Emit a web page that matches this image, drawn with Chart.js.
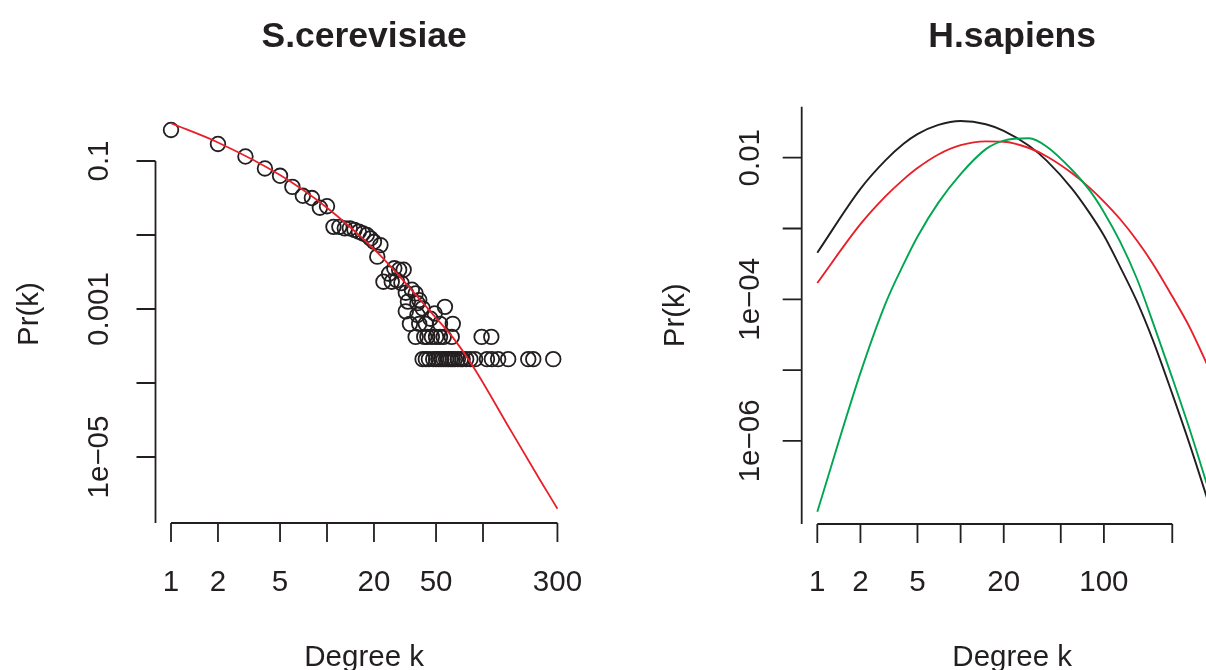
<!DOCTYPE html>
<html>
<head>
<meta charset="utf-8">
<script src="https://cdn.jsdelivr.net/npm/chart.js@4.4.0/dist/chart.umd.min.js"></script>
<style>
  html, body { margin: 0; padding: 0; background: #fff; overflow: hidden; }
  #wrap { position: relative; width: 1206px; height: 670px; overflow: hidden; }
  #yeast { position: absolute; left: 0; top: 0; }
  #human { position: absolute; left: 603px; top: 0; }
</style>
</head>
<body>
<div id="wrap">
  <canvas id="yeast" width="603" height="670"></canvas>
  <canvas id="human" width="620" height="670"></canvas>
</div>
<script>
// S.cerevisiae - observed degree distribution (open circles)
const yeastK = [1, 2, 3, 4, 5, 6, 7, 8, 9, 10,
    11, 12, 13, 14, 15, 16, 17, 18, 19, 20, 22, 21,
    25, 27, 29, 31, 23, 26, 28, 30,
    35, 37, 32, 33, 38, 39, 41, 32, 38, 49, 57, 46,
    34, 39, 43, 53, 64,
    37, 42, 44, 47, 50, 53, 56, 63, 98, 113,
    41, 43, 45, 48, 50, 52, 54, 56, 58, 60, 62, 64, 66, 69, 72, 74, 78, 83, 89, 106, 114, 125, 145, 195, 210, 282];
const yeastP = [0.263, 0.170, 0.115, 0.0794, 0.0631, 0.0447, 0.0339, 0.0316, 0.0234, 0.0245,
    0.0129, 0.0129, 0.0123, 0.0123, 0.0117, 0.0111, 0.0105, 0.0100, 0.0090, 0.0081, 0.0073, 0.0051,
    0.0030, 0.00355, 0.00339, 0.00339, 0.00234, 0.00234, 0.00245, 0.00224,
    0.00182, 0.00162, 0.00166, 0.00126, 0.00120, 0.00132, 0.00102, 0.00093, 0.00083, 0.00087, 0.00107, 0.00074,
    0.00063, 0.00063, 0.00063, 0.00063, 0.00063,
    0.00042, 0.00042, 0.00042, 0.00042, 0.00042, 0.00042, 0.00042, 0.00042, 0.00042, 0.00042,
    0.00021, 0.00021, 0.00021, 0.00021, 0.00021, 0.00021, 0.00021, 0.00021, 0.00021, 0.00021, 0.00021, 0.00021, 0.00021,
    0.00021, 0.00021, 0.00021, 0.00021, 0.00021, 0.00021, 0.00021, 0.00021, 0.00021, 0.00021, 0.00021, 0.00021, 0.00021];

// S.cerevisiae - fitted curve (red)
const yeastFitK = [1, 2, 5, 10, 20, 26, 48, 66, 89, 142, 232, 300];
const yeastFitP = [0.324, 0.178, 0.0646, 0.0234, 0.00646, 0.00363, 0.000832, 0.000380, 0.000151, 2.82e-5, 4.90e-6, 2.00e-6];

// H.sapiens - three fitted curves
const humanK = [1, 2, 3, 4, 5, 7, 10, 15, 20, 30, 40, 60, 80, 100, 130, 170, 220, 300, 400, 525];
const humanBlack = [4.55e-4, 3.63e-3, 9.23e-3, 0.0157, 0.0215, 0.0290, 0.0329, 0.0297, 0.0239, 0.0147,
    9.02e-3, 3.63e-3, 1.62e-3, 7.94e-4, 2.85e-4, 9.33e-5, 2.63e-5, 4.61e-6, 8.51e-7, 1.55e-7];
const humanRed = [1.70e-4, 1.15e-3, 2.86e-3, 4.94e-3, 7.14e-3, 0.0111, 0.0150, 0.0170, 0.0168, 0.0137,
    0.0104, 6.03e-3, 3.72e-3, 2.40e-3, 1.35e-3, 6.76e-4, 3.16e-4, 1.10e-4, 3.89e-5, 1.20e-5];
const humanGreen = [1.0e-7, 9.12e-6, 8.83e-5, 3.13e-4, 7.66e-4, 2.32e-3, 5.87e-3, 0.0132, 0.0174, 0.0188,
    0.0143, 6.70e-3, 3.39e-3, 1.70e-3, 6.46e-4, 1.95e-4, 4.68e-5, 7.76e-6, 1.38e-6, 2.40e-7];

// axis ticks and labels (blank label = tick only)
const xTicks = [1, 2, 5, 10, 20, 50, 100, 300];
const yeastXLabels = ['1', '2', '5', '', '20', '50', '', '300'];
const humanXLabels = ['1', '2', '5', '', '20', '', '100', ''];
const yeastYTicks = [1e-1, 1e-2, 1e-3, 1e-4, 1e-5];
const yeastYLabels = ['0.1', '', '0.001', '', '1e\u221205'];
const humanYTicks = [1e-2, 1e-3, 1e-4, 1e-5, 1e-6];
const humanYLabels = ['0.01', '', '1e\u221204', '', '1e\u221206'];

const ink = '#231f20';
const red = '#e8202a';
const green = '#00a650';
const fontFamily = '"Liberation Sans", Arial, Helvetica, sans-serif';

function toPoints(xs, ys) {
    return xs.map((x, i) => ({x: x, y: ys[i]}));
}

// R style axes: line between outer ticks, ticks pointing out, labels parallel to axis
const rAxes = {
    id: 'rAxes',
    afterDraw(chart, args, opts) {
        const ctx = chart.ctx;
        const area = chart.chartArea;
        const xs = chart.scales.x;
        const ys = chart.scales.y;
        const tickLen = 19;

        ctx.save();
        ctx.strokeStyle = ink;
        ctx.fillStyle = ink;
        ctx.lineWidth = 1.8;

        // x axis
        const xFirst = xs.getPixelForValue(opts.xTicks[0]);
        const xLast = xs.getPixelForValue(opts.xTicks[opts.xTicks.length - 1]);
        ctx.beginPath();
        ctx.moveTo(xFirst, area.bottom);
        ctx.lineTo(xLast, area.bottom);
        opts.xTicks.forEach(v => {
            const px = xs.getPixelForValue(v);
            ctx.moveTo(px, area.bottom);
            ctx.lineTo(px, area.bottom + tickLen);
        });

        // y axis
        let yTop = area.top;
        if (opts.yAxisFrom) {
            yTop = Math.max(area.top, ys.getPixelForValue(opts.yAxisFrom));
        }
        ctx.moveTo(area.left, yTop);
        ctx.lineTo(area.left, area.bottom);
        opts.yTicks.forEach(v => {
            const py = ys.getPixelForValue(v);
            ctx.moveTo(area.left, py);
            ctx.lineTo(area.left - tickLen, py);
        });
        ctx.stroke();

        ctx.font = '29.5px ' + fontFamily;
        ctx.textAlign = 'center';
        ctx.textBaseline = 'alphabetic';
        opts.xTicks.forEach((v, i) => {
            if (opts.xLabels[i]) {
                ctx.fillText(opts.xLabels[i], xs.getPixelForValue(v), 590.5);
            }
        });
        opts.yTicks.forEach((v, i) => {
            if (opts.yLabels[i]) {
                ctx.save();
                ctx.translate(area.left - opts.yLabelGap, ys.getPixelForValue(v));
                ctx.rotate(-Math.PI / 2);
                ctx.fillText(opts.yLabels[i], 0, 0);
                ctx.restore();
            }
        });

        const midX = (area.left + area.right) / 2;
        const midY = (area.top + area.bottom) / 2;
        ctx.fillText(opts.xTitle, midX, 665.5);
        ctx.save();
        ctx.translate(area.left - 118, midY);
        ctx.rotate(-Math.PI / 2);
        ctx.fillText(opts.yTitle, 0, 0);
        ctx.restore();

        ctx.font = 'bold 35.5px ' + fontFamily;
        ctx.fillText(opts.title, midX, 47);
        ctx.restore();
    }
};

function baseOptions(padding, xRange, yRange, axes) {
    return {
        responsive: false,
        animation: false,
        devicePixelRatio: 1,
        layout: {padding: padding},
        plugins: {
            legend: {display: false},
            tooltip: {enabled: false},
            rAxes: axes
        },
        scales: {
            x: {type: 'logarithmic', display: false, min: xRange[0], max: xRange[1]},
            y: {type: 'logarithmic', display: false, min: yRange[0], max: yRange[1]}
        }
    };
}

const yeastChart = new Chart(document.getElementById('yeast'), {
    type: 'scatter',
    data: {
        datasets: [
            {
                label: 'fit',
                data: toPoints(yeastFitK, yeastFitP),
                showLine: true,
                borderColor: red,
                borderWidth: 1.8,
                pointRadius: 0,
                cubicInterpolationMode: 'monotone',
                order: 0
            },
            {
                label: 'observed',
                data: toPoints(yeastK, yeastP),
                pointStyle: 'circle',
                pointRadius: 7.3,
                borderWidth: 1.8,
                borderColor: ink,
                backgroundColor: 'rgba(0,0,0,0)',
                order: 1
            }
        ]
    },
    options: baseOptions(
        {left: 155.5, right: 30.2, top: 105, bottom: 147},
        [Math.pow(10, -0.0994), Math.pow(10, 2.5756)],
        [Math.pow(10, -5.892), Math.pow(10, -0.243)],
        {
            title: 'S.cerevisiae', xTitle: 'Degree k', yTitle: 'Pr(k)',
            xTicks: xTicks, xLabels: yeastXLabels,
            yTicks: yeastYTicks, yLabels: yeastYLabels,
            yAxisFrom: 0.1, yLabelGap: 47.5
        }
    ),
    plugins: [rAxes]
});

function curve(label, values, color) {
    return {
        label: label,
        data: toPoints(humanK, values),
        showLine: true,
        borderColor: color,
        borderWidth: 1.9,
        pointRadius: 0,
        cubicInterpolationMode: 'monotone'
    };
}

const humanChart = new Chart(document.getElementById('human'), {
    type: 'scatter',
    data: {
        datasets: [
            curve('green', humanGreen, green),
            curve('red', humanRed, red),
            curve('black', humanBlack, ink)
        ]
    },
    options: baseOptions(
        {left: 198.7, right: 0.3, top: 106.7, bottom: 146},
        [Math.pow(10, -0.1089), Math.pow(10, 2.829)],
        [Math.pow(10, -7.174), Math.pow(10, -1.280)],
        {
            title: 'H.sapiens', xTitle: 'Degree k', yTitle: 'Pr(k)',
            xTicks: xTicks, xLabels: humanXLabels,
            yTicks: humanYTicks, yLabels: humanYLabels,
            yAxisFrom: null, yLabelGap: 42.7
        }
    ),
    plugins: [rAxes]
});
</script>
</body>
</html>
